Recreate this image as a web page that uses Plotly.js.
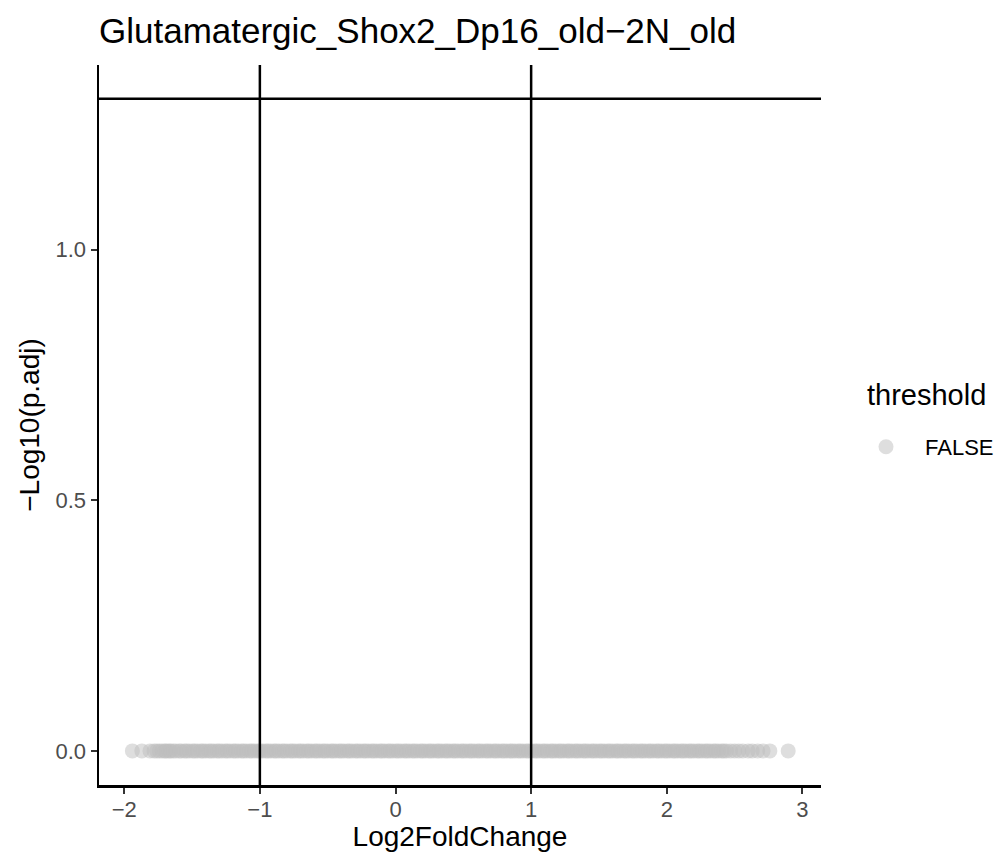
<!DOCTYPE html>
<html>
<head>
<meta charset="utf-8">
<script src="https://cdn.plot.ly/plotly-3.0.1.min.js"></script>
<style>html,body{margin:0;padding:0;background:#fff;}#chart{width:1003px;height:852px;}</style>
</head>
<body>
<div id="chart"></div>
<script>
// Log2 fold changes of the genes (all have -log10(p.adj) = 0, threshold FALSE)
const log2FoldChange = [
  -1.94,-1.87,-1.81,-1.78,-1.76,-1.74,-1.72,-1.70,-1.69,-1.67,-1.66,
  -1.64,-1.62,-1.595,-1.58,-1.555,-1.54,-1.52,-1.495,-1.48,-1.46,-1.435,-1.42,-1.40,-1.375,-1.36,-1.34,-1.315,-1.30,-1.28,-1.255,
  -1.24,-1.22,-1.195,-1.18,-1.16,-1.135,-1.12,-1.10,-1.075,-1.06,-1.04,-1.015,-1.00,-0.98,-0.955,-0.94,-0.92,-0.895,-0.88,-0.86,
  -0.835,-0.82,-0.80,-0.775,-0.76,-0.74,-0.715,-0.70,-0.68,-0.655,-0.64,-0.62,-0.595,-0.58,-0.56,-0.535,-0.52,-0.50,-0.475,-0.46,
  -0.44,-0.415,-0.40,-0.38,-0.355,-0.34,-0.32,-0.295,-0.28,-0.26,-0.235,-0.22,-0.20,-0.175,-0.16,-0.14,-0.115,-0.10,-0.08,-0.055,
  -0.04,-0.02,0.005,0.02,0.04,0.065,0.08,0.10,0.125,0.14,0.16,0.185,0.20,0.22,0.245,0.26,0.28,0.305,0.32,0.34,
  0.365,0.38,0.40,0.425,0.44,0.46,0.485,0.50,0.52,0.545,0.56,0.58,0.605,0.62,0.64,0.665,0.68,0.70,0.725,0.74,
  0.76,0.785,0.80,0.82,0.845,0.86,0.88,0.905,0.92,0.94,0.965,0.98,1.00,1.025,1.04,1.06,1.085,1.10,1.12,1.145,
  1.16,1.18,1.205,1.22,1.24,1.265,1.28,1.30,1.325,1.34,1.36,1.385,1.40,1.42,1.445,1.46,1.48,1.505,1.52,1.54,
  1.565,1.58,1.60,1.625,1.64,1.66,1.685,1.70,1.72,1.745,1.76,1.78,1.805,1.82,1.84,1.865,1.88,1.90,1.925,1.94,
  1.96,1.985,2.00,2.02,2.045,2.06,2.08,2.105,2.12,2.14,2.165,2.18,2.20,2.225,2.24,2.26,2.285,2.30,2.32,2.345,
  2.36,2.38,2.405,2.42,2.44,
  2.47,2.50,2.53,2.56,2.60,2.63,2.67,2.71,2.76,2.895
];
const negLog10Padj = [
  0,0,0,0,0,0,0,0,0,0,0,0,0,0,0,0,0,0,0,0,
  0,0,0,0,0,0,0,0,0,0,0,0,0,0,0,0,0,0,0,0,
  0,0,0,0,0,0,0,0,0,0,0,0,0,0,0,0,0,0,0,0,
  0,0,0,0,0,0,0,0,0,0,0,0,0,0,0,0,0,0,0,0,
  0,0,0,0,0,0,0,0,0,0,0,0,0,0,0,0,0,0,0,0,
  0,0,0,0,0,0,0,0,0,0,0,0,0,0,0,0,0,0,0,0,
  0,0,0,0,0,0,0,0,0,0,0,0,0,0,0,0,0,0,0,0,
  0,0,0,0,0,0,0,0,0,0,0,0,0,0,0,0,0,0,0,0,
  0,0,0,0,0,0,0,0,0,0,0,0,0,0,0,0,0,0,0,0,
  0,0,0,0,0,0,0,0,0,0,0,0,0,0,0,0,0,0,0,0,
  0,0,0,0,0,0,0,0,0,0,0,0,0,0,0,0,0,0,0,0,
  0,0,0,0,0,0,0,0,0,0,0,0,0,0,0,0,0,0,0,0
];
const thresholdLabel = "FALSE";
const legendTitle = "threshold";
const foldChangeCutoffs = [-1, 1];
const padjCutoffLine = 1.30103; // -log10(0.05)
const xTickVals = [-2, -1, 0, 1, 2, 3];
const yTickVals = [0, 0.5, 1.0];
const chartTitle = "Glutamatergic_Shox2_Dp16_old\u22122N_old";

const FONT = "Liberation Sans, Arial, Helvetica, sans-serif";

const trace = {
  type: "scatter",
  mode: "markers",
  x: log2FoldChange,
  y: negLog10Padj,
  name: thresholdLabel,
  marker: {color: "rgba(190,190,190,0.5)", size: 15, line: {width: 0}},
  hoverinfo: "x+y",
  showlegend: true
};

const shapes = [];
foldChangeCutoffs.forEach(v => shapes.push({
  type: "line", xref: "x", yref: "paper", x0: v, x1: v, y0: 0, y1: 1,
  line: {color: "#000", width: 2.5}, layer: "above"
}));
shapes.push({
  type: "line", xref: "paper", yref: "y", x0: 0, x1: 1, y0: padjCutoffLine, y1: padjCutoffLine,
  line: {color: "#000", width: 2.5}, layer: "above"
});

const layout = {
  width: 1003, height: 852,
  paper_bgcolor: "#fff", plot_bgcolor: "#fff",
  margin: {l: 99, r: 182, t: 65, b: 67, autoexpand: false},
  font: {family: FONT, color: "#000"},
  title: {
    text: chartTitle, font: {family: FONT, size: 35, color: "#000"},
    xref: "paper", x: 0, xanchor: "left",
    yref: "container", y: 1 - 31/852, yanchor: "middle"
  },
  xaxis: {
    range: [-2.186, 3.137], tickvals: xTickVals, ticktext: xTickVals.map(v => v < 0 ? "\u2212" + Math.abs(v) : String(v)),
    showgrid: false, zeroline: false, showline: true, linecolor: "#000", linewidth: 2.5,
    ticks: "outside", ticklen: 6, tickwidth: 2, tickcolor: "#333",
    ticklabelstandoff: -3,
    tickfont: {family: FONT, size: 22, color: "#4D4D4D"},
    title: {text: "Log2FoldChange", font: {family: FONT, size: 28, color: "#000"}, standoff: 4}
  },
  yaxis: {
    range: [-0.068, 1.3685], tickvals: yTickVals, ticktext: yTickVals.map(v => v.toFixed(1)),
    showgrid: false, zeroline: false, showline: true, linecolor: "#000", linewidth: 2.5,
    ticks: "outside", ticklen: 6, tickwidth: 2, tickcolor: "#333",
    tickfont: {family: FONT, size: 22, color: "#4D4D4D"},
    title: {text: "\u2212Log10(p.adj)", font: {family: FONT, size: 28, color: "#000"}, standoff: 8}
  },
  legend: {
    xref: "container", x: 847/1003, xanchor: "left",
    yref: "container", y: 1 - 447/852, yanchor: "middle",
    itemwidth: 68,
    font: {family: FONT, size: 22, color: "#000"},
    bgcolor: "rgba(0,0,0,0)", borderwidth: 0
  },
  annotations: [{
    text: legendTitle, xref: "paper", yref: "paper", x: (865 - 99) / 722, xanchor: "left",
    y: (785 - 395) / 720, yanchor: "middle", showarrow: false,
    font: {family: FONT, size: 29, color: "#000"}
  }],
  shapes: shapes,
  showlegend: true
};

Plotly.newPlot("chart", [trace], layout, {displayModeBar: false, staticPlot: true});
</script>
</body>
</html>
